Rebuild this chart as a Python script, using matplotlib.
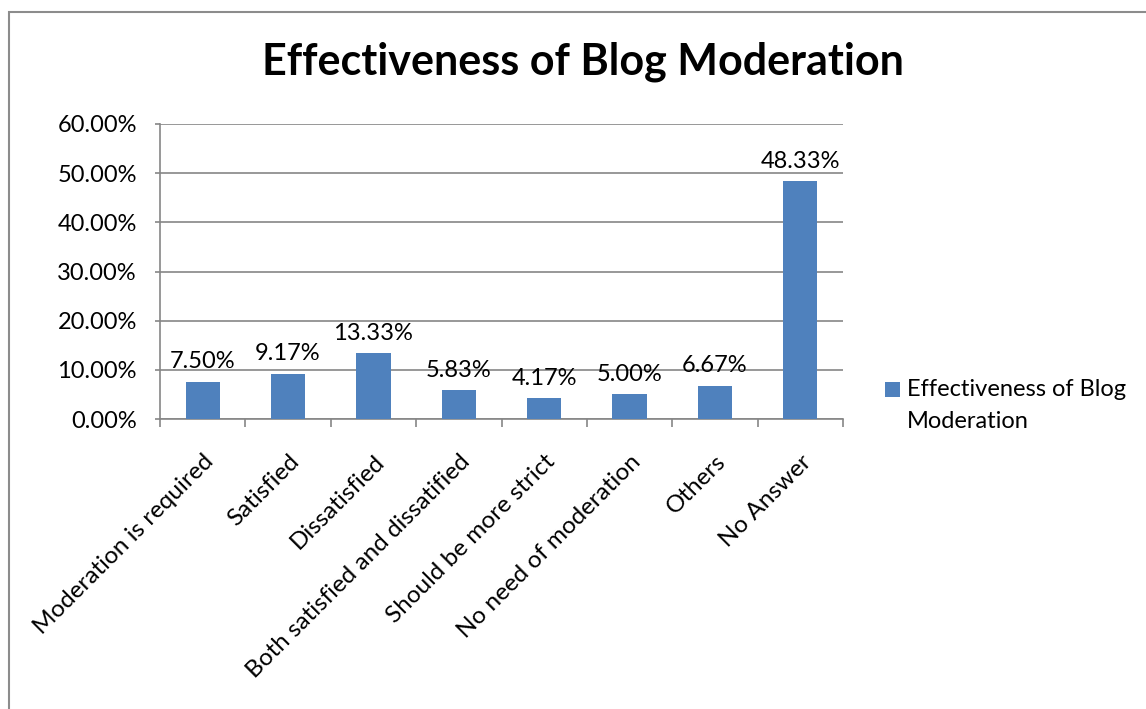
import matplotlib.pyplot as plt
from matplotlib.patches import Rectangle

categories = ['Moderation is required', 'Satisfied', 'Dissatisfied',
              'Both satisfied and dissatified', 'Should be more strict',
              'No need of moderation', 'Others', 'No Answer']
values = [7.50, 9.17, 13.33, 5.83, 4.17, 5.00, 6.67, 48.33]
series_name = ['Effectiveness of Blog', 'Moderation']
title = 'Effectiveness of Blog Moderation'

plt.rcParams['font.family'] = ['Lato', 'DejaVu Sans']
bar_color = '#4F81BD'
grid_color = '#868686'

fig = plt.figure(figsize=(11.46, 7.09), dpi=100)
# outer chart frame
fig.patches.append(Rectangle((9 / 1146, -0.05), 1.2, 1 - 12 / 709 + 0.05,
                             transform=fig.transFigure, fill=False,
                             edgecolor='#8c8c8c', linewidth=1.5))

ax = fig.add_axes([160 / 1146, 1 - 419 / 709, 683 / 1146, 295 / 709])
x = list(range(len(categories)))
bars = ax.bar(x, values, width=0.4, color=bar_color, zorder=3)

for xi, v in zip(x, values):
    ax.annotate(f'{v:.2f}%', (xi, v), xytext=(0, 7), textcoords='offset points',
                ha='center', va='bottom', fontsize=17)

ax.set_xlim(-0.5, len(categories) - 0.5)
ax.set_ylim(0, 60)
ax.set_yticks(range(0, 61, 10))
ax.set_yticklabels([f'{t:.2f}%' for t in range(0, 61, 10)], fontsize=17)
ax.yaxis.grid(True, color=grid_color, linewidth=1.2, zorder=0)

ax.set_xticks([i - 0.5 for i in range(len(categories) + 1)], minor=False)
ax.set_xticklabels([])
ax.set_xticks(x, minor=True)
ax.set_xticklabels(categories, minor=True, rotation=45, ha='right',
                   va='top', rotation_mode='anchor', fontsize=17.5)
ax.tick_params(axis='x', which='minor', length=0, pad=23)
ax.tick_params(axis='x', which='major', length=6, color=grid_color, width=1.2)
ax.tick_params(axis='y', length=3.6, color=grid_color, width=1.2, pad=13)

for side in ['top', 'right']:
    ax.spines[side].set_visible(False)
for side in ['left', 'bottom']:
    ax.spines[side].set_color(grid_color)
    ax.spines[side].set_linewidth(1.2)

fig.text(583 / 1146, 1 - 62 / 709, title, ha='center', va='center',
         fontsize=31, fontweight='bold')

# legend: square key beside the first line of a two-line series name
fig.patches.append(Rectangle((885 / 1146, 1 - 397 / 709), 15 / 1146, 15 / 709,
                             transform=fig.transFigure, facecolor=bar_color,
                             edgecolor='none'))
for i, line in enumerate(series_name):
    fig.text(907 / 1146, 1 - (389 + 32 * i) / 709, line, ha='left',
             va='center', fontsize=17)

fig.savefig('out.png', dpi=100)
